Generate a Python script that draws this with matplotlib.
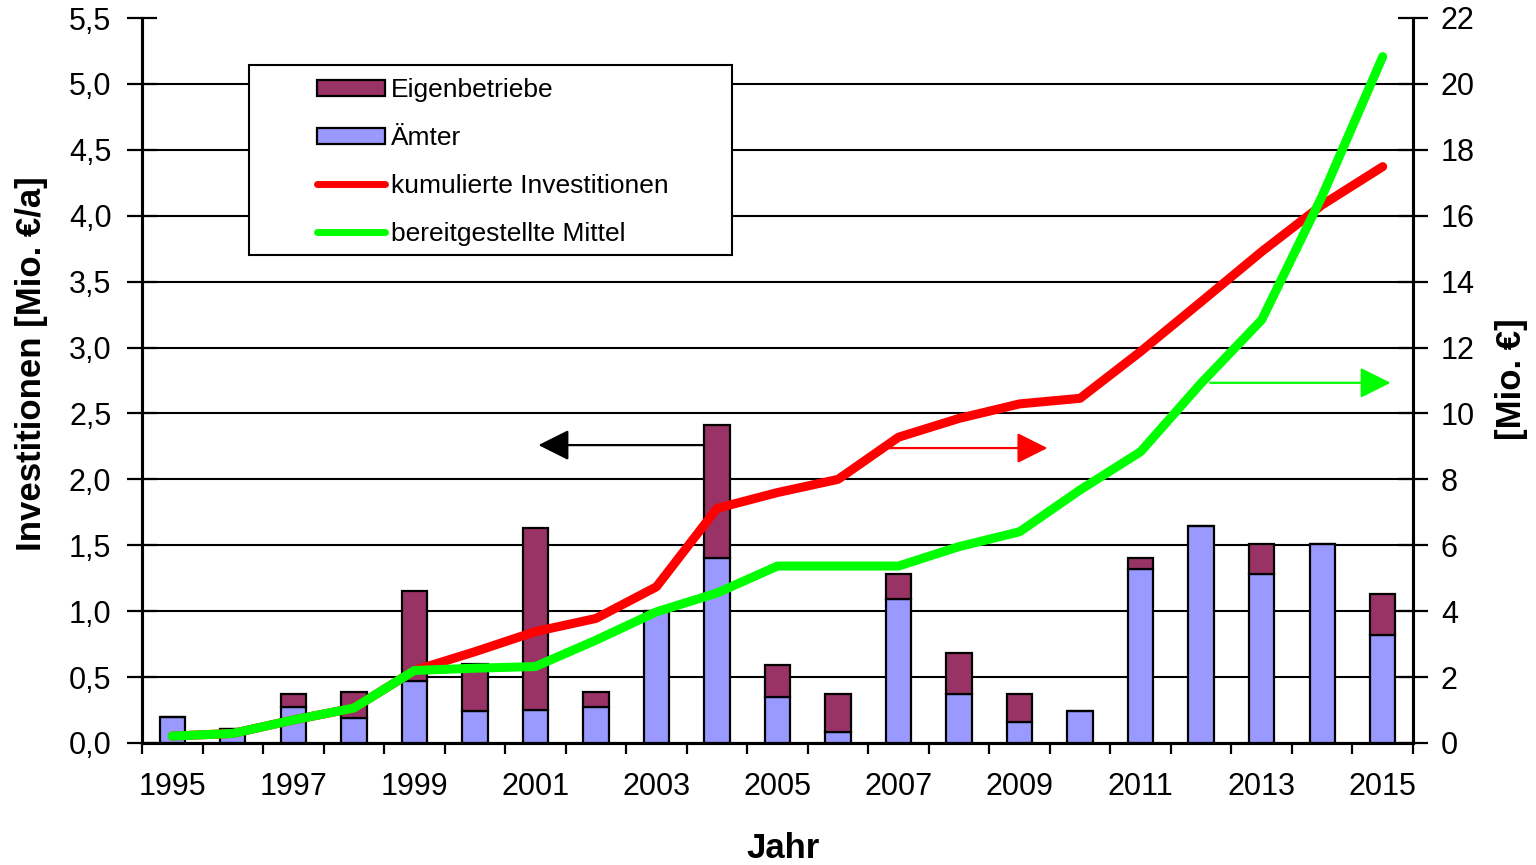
import matplotlib
matplotlib.use("Agg")
import matplotlib.pyplot as plt
from matplotlib.patches import Patch, Rectangle
from matplotlib.lines import Line2D
import numpy as np

plt.rcParams['font.family'] = ['Liberation Sans', 'DejaVu Sans']

years = list(range(1995, 2016))
year_labels = [str(y) if (y - 1995) % 2 == 0 else "" for y in years]
aemter = [0.20, 0.11, 0.27, 0.19, 0.47, 0.24, 0.25, 0.27, 1.00, 1.40, 0.35,
          0.08, 1.09, 0.37, 0.16, 0.24, 1.32, 1.65, 1.28, 1.51, 0.82]
eigenbetriebe = [0.00, 0.00, 0.10, 0.20, 0.68, 0.36, 1.38, 0.12, 0.00, 1.01, 0.24,
                 0.29, 0.19, 0.31, 0.21, 0.00, 0.08, 0.00, 0.23, 0.00, 0.31]
kumuliert = [0.21, 0.29, 0.70, 1.06, 2.20, 2.77, 3.38, 3.78, 4.74, 7.12, 7.60,
             8.00, 9.28, 9.85, 10.29, 10.46, 11.88, 13.39, 14.91, 16.33, 17.49]
bereitgestellt = [0.21, 0.29, 0.70, 1.06, 2.20, 2.27, 2.32, 3.12, 3.98, 4.55, 5.37,
                  5.37, 5.37, 5.96, 6.41, 7.68, 8.84, 10.92, 12.84, 16.6, 20.83]

W, H = 1536, 865
fig = plt.figure(figsize=(W / 100, H / 100), dpi=100)
L, R, T, B = 142, 1413, 18, 743
ax = fig.add_axes([L / W, 1 - B / H, (R - L) / W, (B - T) / H])
ax2 = ax.twinx()

x = np.arange(len(years))
bw = 0.42
c_eig = '#993366'
c_aem = '#9999FF'
ax.bar(x, aemter, bw, color=c_aem, edgecolor='black', linewidth=1.6, zorder=3)
ax.bar(x, eigenbetriebe, bw, bottom=aemter, color=c_eig, edgecolor='black',
       linewidth=1.6, zorder=3)

ax.set_xlim(-0.5, len(years) - 0.5)
ax.set_ylim(0, 5.5)
yt = np.arange(0, 5.51, 0.5)
ax.set_yticks(yt)
ax.set_yticklabels([f"{v:.1f}".replace('.', ',') for v in yt])
ax.yaxis.grid(True, color='black', linewidth=1.5, zorder=0)
ax.set_axisbelow(True)
ax.get_ygridlines()[-1].set_visible(False)

ax.set_xticks(x)
ax.set_xticklabels(year_labels)
ax.set_xticks(np.arange(-0.5, len(years), 1.0), minor=True)
ax.tick_params(axis='x', which='major', length=0, labelsize=22, pad=21)
ax.tick_params(axis='x', which='minor', length=8, width=1.6, direction='out')
ax.tick_params(axis='y', direction='inout', length=22, width=1.6, labelsize=22, pad=11)

ax2.set_ylim(0, 22)
ax2.set_yticks(np.arange(0, 22.1, 2))
ax2.tick_params(axis='y', direction='inout', length=22, width=1.6, labelsize=22, pad=9)

for a in (ax, ax2):
    a.spines['top'].set_visible(False)
    for s in ('left', 'right', 'bottom'):
        a.spines[s].set_linewidth(2.2)

ax2.plot(x, kumuliert, color='#FF0000', linewidth=6.5, solid_capstyle='round',
         solid_joinstyle='round', zorder=4)
ax2.plot(x, bereitgestellt, color='#00FF00', linewidth=6.5, solid_capstyle='round',
         solid_joinstyle='round', zorder=5)

ap = dict(arrowstyle='-|>,head_length=1.0,head_width=0.5', mutation_scale=19,
          linewidth=1.6, shrinkA=0, shrinkB=0)
ax.annotate('', xy=(6.05, 2.26), xytext=(9 - bw / 2, 2.26),
            arrowprops=dict(ap, color='black'), zorder=6)
ax2.annotate('', xy=(14.46, 8.95), xytext=(11.8, 8.95),
             arrowprops=dict(ap, color='#FF0000'), zorder=6)
ax2.annotate('', xy=(20.13, 10.93), xytext=(17.15, 10.93),
             arrowprops=dict(ap, color='#00FF00'), zorder=6)

# legend
handles = [Patch(facecolor=c_eig, edgecolor='black', linewidth=1.6),
           Patch(facecolor=c_aem, edgecolor='black', linewidth=1.6),
           Line2D([], [], color='#FF0000', linewidth=5, solid_capstyle='round'),
           Line2D([], [], color='#00FF00', linewidth=5, solid_capstyle='round')]
labels = ['Eigenbetriebe', 'Ämter', 'kumulierte Investitionen', 'bereitgestellte Mittel']
fig.patches.append(Rectangle((249 / W, 1 - 255 / H), (732 - 249) / W, (255 - 65) / H,
                             transform=fig.transFigure, facecolor='white',
                             edgecolor='black', linewidth=1.5, zorder=10))
leg = fig.legend(handles, labels, loc='upper left', bbox_to_anchor=(317 / W, 1 - 78.5 / H),
                 frameon=False, fontsize=19, borderpad=0, handlelength=2.58,
                 handleheight=0.57, handletextpad=0.22, labelspacing=0.9,
                 borderaxespad=0)
leg.set_zorder(11)

fig.text(32 / W, 1 - 364 / H, 'Investitionen [Mio. €/a]', rotation=90, ha='center',
         va='center', fontsize=25, fontweight='bold')
fig.text(1512 / W, 1 - 379 / H, '[Mio. €]', rotation=90, ha='center', va='center',
         fontsize=25, fontweight='bold')
fig.text(783 / W, 1 - 848 / H, 'Jahr', ha='center', va='center', fontsize=25,
         fontweight='bold')

fig.savefig('out.png', dpi=100)
